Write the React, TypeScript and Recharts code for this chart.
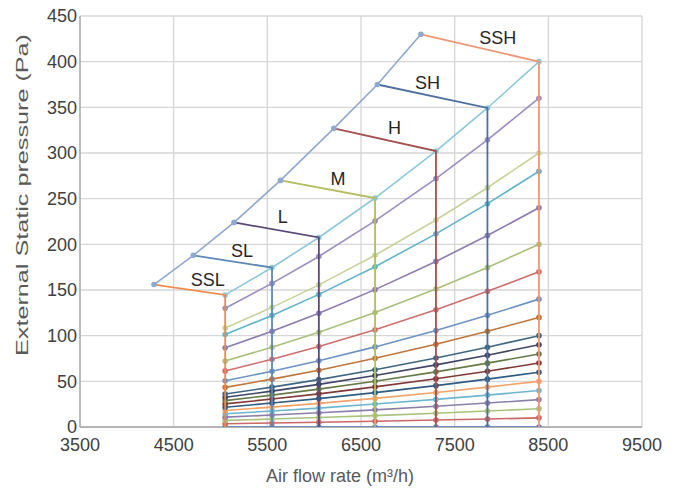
import React from 'react';
import { ScatterChart, Scatter, XAxis, YAxis, CartesianGrid } from 'recharts';

// Axis ticks
const xTicks = [3500, 4500, 5500, 6500, 7500, 8500, 9500];
const yTicks = [0, 50, 100, 150, 200, 250, 300, 350, 400, 450];

// Air-flow columns (m3/h) where each system curve has a point
const columnsX = [5050, 5550, 6050, 6650, 7300, 7850, 8400];

// System resistance curves: pressure at each column (Pa)
const curve400 = [144.6, 174.6, 207.5, 250.7, 302.1, 349.3, 400];
const curve360 = [130.1, 157.2, 186.7, 225.6, 271.9, 314.4, 360];
const curve300 = [108.4, 131.0, 155.6, 188.0, 226.6, 262.0, 300];
const curve280 = [101.2, 122.2, 145.2, 175.5, 211.5, 244.5, 280];
const curve240 = [86.7, 104.8, 124.5, 150.4, 181.3, 209.6, 240];
const curve200 = [72.3, 87.3, 103.7, 125.3, 151.0, 174.7, 200];
const curve170 = [61.4, 74.2, 88.2, 106.5, 128.4, 148.5, 170];
const curve140 = [50.6, 61.1, 72.6, 87.7, 105.7, 122.3, 140];
const curve120 = [43.4, 52.4, 62.2, 75.2, 90.6, 104.8, 120];
const curve100 = [36.1, 43.7, 51.9, 62.7, 75.5, 87.3, 100];
const curve90 = [32.5, 39.3, 46.7, 56.4, 68.0, 78.6, 90];
const curve80 = [28.9, 34.9, 41.5, 50.1, 60.4, 69.9, 80];
const curve70 = [25.3, 30.6, 36.3, 43.9, 52.9, 61.1, 70];
const curve60 = [21.7, 26.2, 31.1, 37.6, 45.3, 52.4, 60];
const curve50 = [18.1, 21.8, 25.9, 31.3, 37.8, 43.7, 50];
const curve40 = [14.5, 17.5, 20.7, 25.1, 30.2, 34.9, 40];
const curve30 = [10.8, 13.1, 15.6, 18.8, 22.7, 26.2, 30];
const curve20 = [7.2, 8.7, 10.4, 12.5, 15.1, 17.5, 20];
const curve10 = [3.6, 4.4, 5.2, 6.3, 7.6, 8.7, 10];
const curve0 = [0, 0, 0, 0, 0, 0, 0];

const systemCurves = [
  curve0, curve10, curve20, curve30, curve40, curve50, curve60, curve70, curve80, curve90,
  curve100, curve120, curve140, curve170, curve200, curve240, curve280, curve300, curve360, curve400,
];
const systemColors = [
  '#5B86BE', '#CB6765', '#A9C27E', '#8A7FA8', '#6EB6CE', '#F2A36A', '#2F5C80', '#7E3A36', '#667A46', '#3F4664',
  '#3F6680', '#C0753A', '#6D93C4', '#CD6F6D', '#A9C07A', '#8C7BB0', '#5FB4CC', '#C6D39A', '#9C8DC0', '#8CC8DA',
];

// Fan speed curves
const fanNames = ['SSL', 'SL', 'L', 'M', 'H', 'SH', 'SSH'];
const fanLeftX = [4290, 4710, 5145, 5640, 6210, 6675, 7140];
const fanLeftY = [156, 188, 224, 270, 327, 375, 430];
const fanColors = ['#F08A4B', '#5E88B6', '#5B4A78', '#B3BD5E', '#A4504F', '#4E6F9E', '#EE9677'];
const boundaryColor = '#8FA8CF';

// Fan label positions (data coords)
const labelX = [4863, 5229, 5666, 6254, 6858, 7211, 7960];
const labelY = [161, 193, 230, 272, 327, 376.6, 426];

const toPoints = (ys: number[]) => columnsX.map((x, i) => ({ x, y: ys[i] }));

const dot = (color: string, r: number) => (p: any) =>
  p && p.cx != null ? <circle cx={p.cx} cy={p.cy} r={r} fill={color} /> : <g />;

const fanData = fanNames.map((_, i) => [
  { x: fanLeftX[i], y: fanLeftY[i] },
  { x: columnsX[i], y: curve400[i] },
  { x: columnsX[i], y: 0 },
]);
const boundaryData = fanLeftX.map((x, i) => ({ x, y: fanLeftY[i] }));
const labelData = fanNames.map((name, i) => ({ x: labelX[i], y: labelY[i], name }));

const FONT = '"Liberation Sans", Arial, sans-serif';

const labelShape = (p: any) =>
  p && p.cx != null ? (
    <text x={p.cx} y={p.cy} textAnchor="middle" dominantBaseline="central" fontSize={18} fontFamily={FONT} fill="#262626">
      {p.payload?.name}
    </text>
  ) : (
    <g />
  );

const xTitle = () => (
  <text x={332} y={468} textAnchor="middle" dominantBaseline="central" fontSize={18} fontFamily={FONT} fill="#595959">
    Air flow rate (m³/h)
  </text>
);

const yTitle = () => (
  <text
    x={14}
    y={187}
    transform="rotate(-90, 14, 187)"
    textAnchor="middle"
    dominantBaseline="central"
    fontSize={17}
    fontFamily={FONT}
    fill="#595959"
    textLength={322}
    lengthAdjust="spacingAndGlyphs"
  >
    External Static pressure (Pa)
  </text>
);

export default function App() {
  return (
    <ScatterChart width={672} height={489} margin={{ top: 8, right: 38, bottom: 0, left: 0 }}>
      <CartesianGrid stroke="#d6d6d6" strokeWidth={1.3} />
      <XAxis
        type="number"
        dataKey="x"
        domain={[3500, 9500]}
        ticks={xTicks}
        interval={0}
        allowDataOverflow
        height={70}
        tickLine={false}
        tickSize={0}
        tickMargin={11}
        axisLine={{ stroke: '#a6a6a6', strokeWidth: 1.3 }}
        tick={{ fill: '#404040', fontSize: 18, fontFamily: FONT }}
        label={xTitle}
      />
      <YAxis
        type="number"
        dataKey="y"
        domain={[0, 450]}
        ticks={yTicks}
        interval={0}
        allowDataOverflow
        width={72}
        tickLine={false}
        tickSize={0}
        tickMargin={3}
        axisLine={{ stroke: '#a6a6a6', strokeWidth: 1.3 }}
        tick={{ fill: '#404040', fontSize: 18, fontFamily: FONT }}
        label={yTitle}
      />
      {systemCurves.map((ys, i) => (
        <Scatter
          key={'sys' + i}
          data={toPoints(ys)}
          line={{ stroke: systemColors[i], strokeWidth: 1.6 }}
          lineType="joint"
          stroke={systemColors[i]}
          fill={systemColors[i]}
          shape={dot(systemColors[i], 2.8)}
          isAnimationActive={false}
        />
      ))}
      {fanData.map((d, i) => (
        <Scatter
          key={'fan' + i}
          data={d}
          line={{ stroke: fanColors[i], strokeWidth: 1.8 }}
          lineType="joint"
          stroke={fanColors[i]}
          fill={fanColors[i]}
          shape={dot(fanColors[i], 0.1)}
          isAnimationActive={false}
        />
      ))}
      <Scatter
        data={boundaryData}
        line={{ stroke: boundaryColor, strokeWidth: 1.6 }}
        lineType="joint"
        stroke={boundaryColor}
        fill={boundaryColor}
        shape={dot(boundaryColor, 2.8)}
        isAnimationActive={false}
      />
      <Scatter data={labelData} shape={labelShape} isAnimationActive={false} />
    </ScatterChart>
  );
}
